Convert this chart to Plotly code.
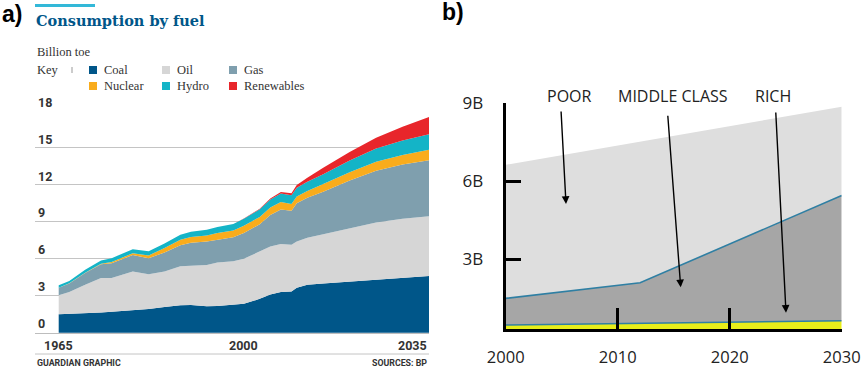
import plotly.graph_objects as go

W, H = 863, 369

# ---------------- Panel a data (billion toe) ----------------
years_a = [1965, 1967, 1970, 1973, 1975, 1979, 1982, 1985, 1988, 1990, 1993, 1995, 1998,
           2000, 2003, 2005, 2007, 2009, 2010, 2012, 2015, 2020, 2025, 2030, 2035]
coal = [1.50, 1.52, 1.58, 1.64, 1.70, 1.82, 1.92, 2.08, 2.24, 2.26, 2.15, 2.17, 2.30,
        2.35, 2.75, 3.10, 3.30, 3.35, 3.65, 3.90, 4.00, 4.15, 4.30, 4.42, 4.60]
oil = [1.55, 1.78, 2.32, 2.81, 2.75, 3.15, 2.83, 2.89, 3.16, 3.19, 3.35, 3.53, 3.50,
       3.65, 3.85, 3.90, 3.90, 3.80, 3.75, 3.80, 4.00, 4.35, 4.65, 4.83, 4.85]
gas = [0.60, 0.70, 0.95, 1.10, 1.20, 1.33, 1.30, 1.55, 1.70, 1.85, 1.90, 1.85, 1.95,
       2.10, 2.20, 2.55, 2.80, 2.75, 3.10, 3.25, 3.45, 3.85, 4.20, 4.40, 4.55]
nuclear = [0.01, 0.01, 0.02, 0.05, 0.10, 0.15, 0.22, 0.35, 0.45, 0.48, 0.50, 0.55, 0.55,
           0.58, 0.60, 0.62, 0.62, 0.55, 0.55, 0.55, 0.62, 0.68, 0.72, 0.78, 0.85]
hydro = [0.19, 0.20, 0.24, 0.27, 0.30, 0.33, 0.35, 0.38, 0.40, 0.42, 0.45, 0.48, 0.52,
         0.58, 0.62, 0.65, 0.68, 0.70, 0.72, 0.75, 0.80, 0.95, 1.08, 1.17, 1.25]
renewables = [0, 0, 0, 0, 0, 0, 0, 0, 0, 0, 0, 0, 0,
              0.02, 0.04, 0.07, 0.13, 0.18, 0.22, 0.33, 0.52, 0.68, 0.88, 1.12, 1.40]

fuel_names = ["Coal", "Oil", "Gas", "Nuclear", "Hydro", "Renewables"]
fuel_values = [coal, oil, gas, nuclear, hydro, renewables]
fuel_colors = ["#005689", "#d6d6d6", "#7f9fae", "#f9ac1c", "#14b4c7", "#e8262b"]

yticks_a = [0, 3, 6, 9, 12, 15, 18]
xticks_a = [1965, 2000, 2035]

# ---------------- Panel b data (billions of people) ----------------
years_b = [2000, 2012, 2030]
rich = [0.46, 0.52, 0.63]
middle_class = [1.03, 1.57, 4.82]
poor = [5.14, 5.44, 3.42]
class_names = ["RICH", "MIDDLE CLASS", "POOR"]
yticks_b = [3, 6, 9]
yticktext_b = ["3B", "6B", "9B"]
xticks_b = [2000, 2010, 2020, 2030]


def px(x):
    return x / W


def py(y):
    return 1 - y / H


fig = go.Figure()

for name, vals, col in zip(fuel_names, fuel_values, fuel_colors):
    fig.add_trace(go.Scatter(
        x=years_a, y=vals, name=name, mode="lines", stackgroup="a",
        line=dict(width=0, color=col), fillcolor=col,
        xaxis="x", yaxis="y", showlegend=False))

b_series = [(class_names[0], rich, "#e8ee1a", "#2f7fa3", 1.5),
            (class_names[1], middle_class, "#a6a6a6", "#2f7fa3", 1.6),
            (class_names[2], poor, "#dedede", "#dedede", 0)]
for name, vals, fc, lc, lw in b_series:
    fig.add_trace(go.Scatter(
        x=years_b, y=vals, name=name, mode="lines", stackgroup="b",
        line=dict(width=lw, color=lc), fillcolor=fc,
        xaxis="x2", yaxis="y2", showlegend=False))

tick_font_a = dict(family="Roboto", size=12.5, color="#333333", weight="bold")

# domains in pixel terms
xa0, xa1 = 35, 429
ya_top, ya_bot = 110.7, 333
xb0, xb1 = 505.7, 841.7
yb_top, yb_bot = 103.3, 329

per_year = (xa1 - 58.7) / (2035 - 1965)
xa_min = 1965 - (58.7 - xa0) / per_year

fig.update_layout(
    width=W, height=H, margin=dict(l=0, r=0, t=0, b=0, autoexpand=False),
    paper_bgcolor="white", plot_bgcolor="rgba(0,0,0,0)",
    xaxis=dict(domain=[px(xa0), px(xa1)], range=[xa_min, 2035], showgrid=False,
               showticklabels=False, ticks="", zeroline=False, automargin=False,
               showline=True, linecolor="#bdbdbd", linewidth=1),
    yaxis=dict(domain=[py(ya_bot), py(ya_top)], range=[-0.02, 18.02], tickvals=yticks_a,
               showgrid=True, gridcolor="#c4c4c4", gridwidth=1, zeroline=False,
               ticks="", ticklabelposition="inside top", ticklabeloverflow="allow",
               tickfont=tick_font_a, automargin=False, layer="below traces"),
    xaxis2=dict(domain=[px(xb0), px(xb1)], range=[2000, 2030], tickvals=xticks_b,
                ticktext=[str(v) for v in xticks_b], showgrid=False, zeroline=False,
                showline=True, linecolor="black", linewidth=3, ticks="inside",
                ticklen=21, tickwidth=3, tickcolor="black", anchor="y2", automargin=False,
                tickfont=dict(family="Open Sans", size=16.5, color="#222222"),
                ticklabelstandoff=11),
    yaxis2=dict(domain=[py(yb_bot), py(yb_top)], range=[0.31, 9.0], tickvals=yticks_b,
                ticktext=yticktext_b, showgrid=False, zeroline=False,
                showline=True, linecolor="black", linewidth=3, ticks="inside",
                ticklen=15, tickwidth=3, tickcolor="black", anchor="x2", automargin=False,
                tickfont=dict(family="Open Sans", size=17, color="#222222"),
                ticklabelstandoff=16),
)

ann = []
shapes = []

# Panel labels
ann.append(dict(text="a)", x=px(0), y=py(14), xref="paper", yref="paper", xanchor="left",
                yanchor="middle", showarrow=False,
                font=dict(family="Liberation Sans", size=23, color="black", weight="bold")))
ann.append(dict(text="b)", x=px(440), y=py(12), xref="paper", yref="paper", xanchor="left",
                yanchor="middle", showarrow=False,
                font=dict(family="Liberation Sans", size=23, color="black", weight="bold")))

# Panel a header
shapes.append(dict(type="rect", xref="paper", yref="paper", x0=px(35), x1=px(95),
                   y0=py(7), y1=py(4), fillcolor="#33b8d8", line=dict(width=0)))
ann.append(dict(text="Consumption by fuel", x=px(34), y=py(20.5), xref="paper", yref="paper",
                xanchor="left", yanchor="middle", showarrow=False,
                font=dict(family="DejaVu Serif", size=14.5, color="#005689", weight="bold")))
serif = dict(family="Liberation Serif", size=12.5, color="#333333")
ann.append(dict(text="Billion toe", x=px(35), y=py(52), xref="paper", yref="paper",
                xanchor="left", yanchor="middle", showarrow=False, font=serif))
ann.append(dict(text="Key", x=px(35), y=py(70), xref="paper", yref="paper",
                xanchor="left", yanchor="middle", showarrow=False, font=serif))
shapes.append(dict(type="line", xref="paper", yref="paper", x0=px(72), x1=px(72),
                   y0=py(67), y1=py(73), line=dict(color="#999999", width=1)))

legend_cols = [89, 162, 229]
legend_rows = [70, 86]
for i, (name, col) in enumerate(zip(fuel_names, fuel_colors)):
    cx = legend_cols[i % 3]
    cy = legend_rows[i // 3]
    shapes.append(dict(type="rect", xref="paper", yref="paper", x0=px(cx), x1=px(cx + 8),
                       y0=py(cy + 4), y1=py(cy - 4), fillcolor=col, line=dict(width=0)))
    ann.append(dict(text=name, x=px(cx + 13), y=py(cy), xref="paper", yref="paper",
                    xanchor="left", yanchor="middle", showarrow=False, font=serif))

# Panel a x tick labels
for i, yr in enumerate(xticks_a):
    ann.append(dict(text=str(yr), x=yr, y=py(345), xref="x", yref="paper",
                    xanchor="right" if i == len(xticks_a) - 1 else "center",
                    yanchor="middle", showarrow=False, font=tick_font_a))

# Footer
shapes.append(dict(type="line", xref="paper", yref="paper", x0=px(35), x1=px(429),
                   y0=py(354), y1=py(354), line=dict(color="#c4c4c4", width=1)))
foot_font = dict(family="Roboto", size=8.8, color="#333333", weight="bold")
ann.append(dict(text="GUARDIAN GRAPHIC", x=px(35), y=py(363), xref="paper", yref="paper",
                xanchor="left", yanchor="middle", showarrow=False, font=foot_font))
ann.append(dict(text="SOURCES: BP", x=px(429), y=py(363), xref="paper", yref="paper",
                xanchor="right", yanchor="middle", showarrow=False, font=foot_font))

# Panel b labels and arrows
lab_font = dict(family="Open Sans", size=16, color="#222222")
label_pos = {"POOR": 569, "MIDDLE CLASS": 673, "RICH": 773}
arrows = {"POOR": ((561, 110), (566, 204)),
          "MIDDLE CLASS": ((667.7, 114.3), (680.7, 287.3)),
          "RICH": ((775.7, 111), (786, 312.7))}
for name in ["POOR", "MIDDLE CLASS", "RICH"]:
    ann.append(dict(text=name, x=px(label_pos[name]), y=py(96), xref="paper", yref="paper",
                    xanchor="center", yanchor="middle", showarrow=False, font=lab_font))
    (tx, ty), (hx, hy) = arrows[name]
    ann.append(dict(text="", x=px(hx), y=py(hy), xref="paper", yref="paper",
                    showarrow=True, ax=tx - hx, ay=ty - hy, axref="pixel", ayref="pixel",
                    arrowhead=2, arrowsize=1.1, arrowwidth=1.4, arrowcolor="black",
                    standoff=0, startstandoff=0))

fig.update_layout(annotations=ann, shapes=shapes)
fig.write_html("out.html", config={"displayModeBar": False},
               post_script="document.body.style.margin='0';document.body.style.overflow='hidden';")
